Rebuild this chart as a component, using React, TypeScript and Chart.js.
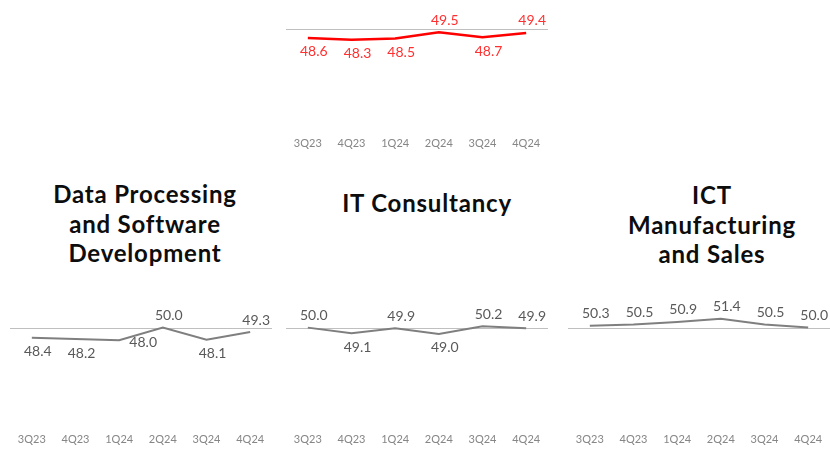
import React, { useEffect, useRef } from "react";
import { Chart, registerables } from "chart.js";

Chart.register(...registerables);

const quarters = ["3Q23", "4Q23", "1Q24", "2Q24", "3Q24", "4Q24"];
const referenceLevel = 50;

const overallValues = [48.6, 48.3, 48.5, 49.5, 48.7, 49.4];
const overallLabelPos = ["below", "below", "below", "above", "below", "above"];

const dataProcessingValues = [48.4, 48.2, 48.0, 50.0, 48.1, 49.3];
const dataProcessingLabelPos = ["below", "below", "right", "above", "below", "above"];

const itConsultancyValues = [50.0, 49.1, 49.9, 49.0, 50.2, 49.9];
const itConsultancyLabelPos = ["above", "below", "above", "below", "above", "above"];

const ictValues = [50.3, 50.5, 50.9, 51.4, 50.5, 50.0];
const ictLabelPos = ["above", "above", "above", "above", "above", "above"];

const FONT = "Lato, 'Open Sans', sans-serif";

type Props = {
  values: number[];
  positions: string[];
  lineColor: string;
  labelColor: string;
  lineWidth: number;
  left: number;
  top: number;
  width: number;
  height: number;
  yMin: number;
  yMax: number;
  padTop: number;
};

function MiniChart(p: Props) {
  const ref = useRef<HTMLCanvasElement | null>(null);
  useEffect(() => {
    if (!ref.current) return;
    const refLine = {
      id: "refLine",
      beforeDatasetsDraw(chart: any) {
        const { ctx, chartArea, scales } = chart;
        const y = Math.round(scales.y.getPixelForValue(referenceLevel)) + 0.5;
        ctx.save();
        ctx.strokeStyle = "#bfbfbf";
        ctx.lineWidth = 1;
        ctx.beginPath();
        ctx.moveTo(chartArea.left, y);
        ctx.lineTo(chartArea.right, y);
        ctx.stroke();
        ctx.restore();
      },
    };
    const pointLabels = {
      id: "pointLabels",
      afterDatasetsDraw(chart: any) {
        const ctx = chart.ctx;
        const meta = chart.getDatasetMeta(0);
        const data = chart.data.datasets[0].data as number[];
        ctx.save();
        ctx.font = `14px ${FONT}`;
        ctx.fillStyle = p.labelColor;
        ctx.textAlign = "center";
        ctx.textBaseline = "middle";
        meta.data.forEach((pt: any, i: number) => {
          const pos = p.positions[i];
          let x = pt.x + 6;
          let y = pt.y;
          if (pos === "above") y -= 12;
          else if (pos === "below") y += 14;
          else {
            x = pt.x + 24;
            y = pt.y + 2;
          }
          ctx.fillText(data[i].toFixed(1), x, y);
        });
        ctx.restore();
      },
    };
    const chart = new Chart(ref.current, {
      type: "line",
      data: {
        labels: quarters,
        datasets: [
          {
            data: p.values,
            borderColor: p.lineColor,
            borderWidth: p.lineWidth,
            pointRadius: 0,
            tension: 0,
            fill: false,
            clip: false as any,
          },
        ],
      },
      options: {
        animation: false,
        responsive: false,
        devicePixelRatio: 1,
        layout: { padding: { top: p.padTop, left: 0, right: 0, bottom: 0 } },
        plugins: {
          legend: { display: false },
          tooltip: { enabled: false },
          title: { display: false },
        },
        scales: {
          x: {
            type: "category",
            offset: true,
            grid: { display: false, drawTicks: false },
            border: { display: false },
            ticks: {
              color: "#868686",
              font: { family: FONT, size: 11 },
              padding: 4,
              maxRotation: 0,
              autoSkip: false,
            },
          },
          y: {
            display: false,
            min: p.yMin,
            max: p.yMax,
          },
        },
      },
      plugins: [refLine, pointLabels],
    });
    return () => chart.destroy();
  }, []);
  return (
    <div style={{ position: "absolute", left: p.left, top: p.top, width: p.width, height: p.height }}>
      <canvas ref={ref} width={p.width} height={p.height} style={{ width: p.width, height: p.height, display: "block" }} />
    </div>
  );
}

const titleStyle: React.CSSProperties = {
  position: "absolute",
  fontFamily: FONT,
  fontWeight: 700,
  fontSize: 24,
  letterSpacing: "0.8px",
  lineHeight: "29.5px",
  color: "#0d0d0d",
  textAlign: "center",
  width: 280,
};

export default function App() {
  return (
    <div style={{ position: "absolute", left: 0, top: 0, width: 830, height: 450, overflow: "hidden", background: "#ffffff" }}>
      <MiniChart values={overallValues} positions={overallLabelPos} lineColor="#ff0000" labelColor="#ff3030" lineWidth={2.5}
        left={286} top={0} width={262} height={154} yMin={33.5} yMax={54} padTop={4} />
      <div style={{ ...titleStyle, left: 5, top: 179 }}>Data Processing<br />and Software<br />Development</div>
      <div style={{ ...titleStyle, left: 287, top: 188 }}>IT Consultancy</div>
      <div style={{ ...titleStyle, left: 572, top: 180 }}>ICT<br />Manufacturing<br />and Sales</div>
      <MiniChart values={dataProcessingValues} positions={dataProcessingLabelPos} lineColor="#7f7f7f" labelColor="#595959" lineWidth={2}
        left={10} top={290} width={262} height={160} yMin={34} yMax={55} padTop={6} />
      <MiniChart values={itConsultancyValues} positions={itConsultancyLabelPos} lineColor="#7f7f7f" labelColor="#595959" lineWidth={2}
        left={286} top={290} width={262} height={160} yMin={34} yMax={55} padTop={6} />
      <MiniChart values={ictValues} positions={ictLabelPos} lineColor="#7f7f7f" labelColor="#595959" lineWidth={2}
        left={568} top={290} width={262} height={160} yMin={34} yMax={55} padTop={6} />
    </div>
  );
}
